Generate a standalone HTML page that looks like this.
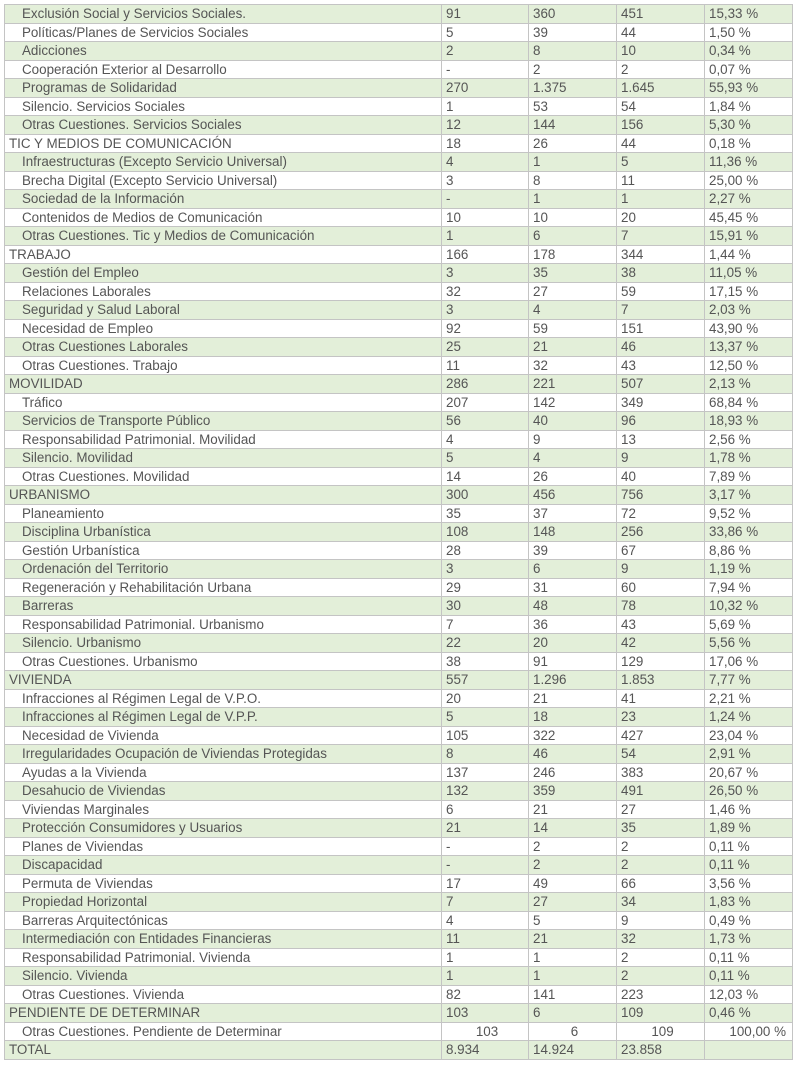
<!DOCTYPE html>
<html><head><meta charset="utf-8"><style>
html,body{margin:0;padding:0;background:#fff;width:800px;height:1065px;overflow:hidden}
table{position:absolute;left:4px;top:4px;border-collapse:collapse;table-layout:fixed;width:788px;font-family:"Liberation Sans",sans-serif;font-size:13.4px;color:#555}
td{border:1px solid #c4c4c4;height:17.5px;padding:0 0 0 4px;white-space:nowrap;overflow:hidden;line-height:17px}
tr:nth-child(odd) td{background:#e3efd9}
td.s{padding-left:17px}
tr.c td:not(:first-child){text-align:center}
tr.c td:last-child{text-align:right;padding-right:6px}
</style></head><body>
<table>
<colgroup><col style="width:437px"><col style="width:87px"><col style="width:88px"><col style="width:88px"><col style="width:88px"></colgroup>
<tr><td class="s">Exclusión Social y Servicios Sociales.</td><td>91</td><td>360</td><td>451</td><td>15,33 %</td></tr>
<tr><td class="s">Políticas/Planes de Servicios Sociales</td><td>5</td><td>39</td><td>44</td><td>1,50 %</td></tr>
<tr><td class="s">Adicciones</td><td>2</td><td>8</td><td>10</td><td>0,34 %</td></tr>
<tr><td class="s">Cooperación Exterior al Desarrollo</td><td>-</td><td>2</td><td>2</td><td>0,07 %</td></tr>
<tr><td class="s">Programas de Solidaridad</td><td>270</td><td>1.375</td><td>1.645</td><td>55,93 %</td></tr>
<tr><td class="s">Silencio. Servicios Sociales</td><td>1</td><td>53</td><td>54</td><td>1,84 %</td></tr>
<tr><td class="s">Otras Cuestiones. Servicios Sociales</td><td>12</td><td>144</td><td>156</td><td>5,30 %</td></tr>
<tr><td>TIC Y MEDIOS DE COMUNICACIÓN</td><td>18</td><td>26</td><td>44</td><td>0,18 %</td></tr>
<tr><td class="s">Infraestructuras (Excepto Servicio Universal)</td><td>4</td><td>1</td><td>5</td><td>11,36 %</td></tr>
<tr><td class="s">Brecha Digital (Excepto Servicio Universal)</td><td>3</td><td>8</td><td>11</td><td>25,00 %</td></tr>
<tr><td class="s">Sociedad de la Información</td><td>-</td><td>1</td><td>1</td><td>2,27 %</td></tr>
<tr><td class="s">Contenidos de Medios de Comunicación</td><td>10</td><td>10</td><td>20</td><td>45,45 %</td></tr>
<tr><td class="s">Otras Cuestiones. Tic y Medios de Comunicación</td><td>1</td><td>6</td><td>7</td><td>15,91 %</td></tr>
<tr><td>TRABAJO</td><td>166</td><td>178</td><td>344</td><td>1,44 %</td></tr>
<tr><td class="s">Gestión del Empleo</td><td>3</td><td>35</td><td>38</td><td>11,05 %</td></tr>
<tr><td class="s">Relaciones Laborales</td><td>32</td><td>27</td><td>59</td><td>17,15 %</td></tr>
<tr><td class="s">Seguridad y Salud Laboral</td><td>3</td><td>4</td><td>7</td><td>2,03 %</td></tr>
<tr><td class="s">Necesidad de Empleo</td><td>92</td><td>59</td><td>151</td><td>43,90 %</td></tr>
<tr><td class="s">Otras Cuestiones Laborales</td><td>25</td><td>21</td><td>46</td><td>13,37 %</td></tr>
<tr><td class="s">Otras Cuestiones. Trabajo</td><td>11</td><td>32</td><td>43</td><td>12,50 %</td></tr>
<tr><td>MOVILIDAD</td><td>286</td><td>221</td><td>507</td><td>2,13 %</td></tr>
<tr><td class="s">Tráfico</td><td>207</td><td>142</td><td>349</td><td>68,84 %</td></tr>
<tr><td class="s">Servicios de Transporte Público</td><td>56</td><td>40</td><td>96</td><td>18,93 %</td></tr>
<tr><td class="s">Responsabilidad Patrimonial. Movilidad</td><td>4</td><td>9</td><td>13</td><td>2,56 %</td></tr>
<tr><td class="s">Silencio. Movilidad</td><td>5</td><td>4</td><td>9</td><td>1,78 %</td></tr>
<tr><td class="s">Otras Cuestiones. Movilidad</td><td>14</td><td>26</td><td>40</td><td>7,89 %</td></tr>
<tr><td>URBANISMO</td><td>300</td><td>456</td><td>756</td><td>3,17 %</td></tr>
<tr><td class="s">Planeamiento</td><td>35</td><td>37</td><td>72</td><td>9,52 %</td></tr>
<tr><td class="s">Disciplina Urbanística</td><td>108</td><td>148</td><td>256</td><td>33,86 %</td></tr>
<tr><td class="s">Gestión Urbanística</td><td>28</td><td>39</td><td>67</td><td>8,86 %</td></tr>
<tr><td class="s">Ordenación del Territorio</td><td>3</td><td>6</td><td>9</td><td>1,19 %</td></tr>
<tr><td class="s">Regeneración y Rehabilitación Urbana</td><td>29</td><td>31</td><td>60</td><td>7,94 %</td></tr>
<tr><td class="s">Barreras</td><td>30</td><td>48</td><td>78</td><td>10,32 %</td></tr>
<tr><td class="s">Responsabilidad Patrimonial. Urbanismo</td><td>7</td><td>36</td><td>43</td><td>5,69 %</td></tr>
<tr><td class="s">Silencio. Urbanismo</td><td>22</td><td>20</td><td>42</td><td>5,56 %</td></tr>
<tr><td class="s">Otras Cuestiones. Urbanismo</td><td>38</td><td>91</td><td>129</td><td>17,06 %</td></tr>
<tr><td>VIVIENDA</td><td>557</td><td>1.296</td><td>1.853</td><td>7,77 %</td></tr>
<tr><td class="s">Infracciones al Régimen Legal de V.P.O.</td><td>20</td><td>21</td><td>41</td><td>2,21 %</td></tr>
<tr><td class="s">Infracciones al Régimen Legal de V.P.P.</td><td>5</td><td>18</td><td>23</td><td>1,24 %</td></tr>
<tr><td class="s">Necesidad de Vivienda</td><td>105</td><td>322</td><td>427</td><td>23,04 %</td></tr>
<tr><td class="s">Irregularidades Ocupación de Viviendas Protegidas</td><td>8</td><td>46</td><td>54</td><td>2,91 %</td></tr>
<tr><td class="s">Ayudas a la Vivienda</td><td>137</td><td>246</td><td>383</td><td>20,67 %</td></tr>
<tr><td class="s">Desahucio de Viviendas</td><td>132</td><td>359</td><td>491</td><td>26,50 %</td></tr>
<tr><td class="s">Viviendas Marginales</td><td>6</td><td>21</td><td>27</td><td>1,46 %</td></tr>
<tr><td class="s">Protección Consumidores y Usuarios</td><td>21</td><td>14</td><td>35</td><td>1,89 %</td></tr>
<tr><td class="s">Planes de Viviendas</td><td>-</td><td>2</td><td>2</td><td>0,11 %</td></tr>
<tr><td class="s">Discapacidad</td><td>-</td><td>2</td><td>2</td><td>0,11 %</td></tr>
<tr><td class="s">Permuta de Viviendas</td><td>17</td><td>49</td><td>66</td><td>3,56 %</td></tr>
<tr><td class="s">Propiedad Horizontal</td><td>7</td><td>27</td><td>34</td><td>1,83 %</td></tr>
<tr><td class="s">Barreras Arquitectónicas</td><td>4</td><td>5</td><td>9</td><td>0,49 %</td></tr>
<tr><td class="s">Intermediación con Entidades Financieras</td><td>11</td><td>21</td><td>32</td><td>1,73 %</td></tr>
<tr><td class="s">Responsabilidad Patrimonial. Vivienda</td><td>1</td><td>1</td><td>2</td><td>0,11 %</td></tr>
<tr><td class="s">Silencio. Vivienda</td><td>1</td><td>1</td><td>2</td><td>0,11 %</td></tr>
<tr><td class="s">Otras Cuestiones. Vivienda</td><td>82</td><td>141</td><td>223</td><td>12,03 %</td></tr>
<tr><td>PENDIENTE DE DETERMINAR</td><td>103</td><td>6</td><td>109</td><td>0,46 %</td></tr>
<tr class="c"><td class="s">Otras Cuestiones. Pendiente de Determinar</td><td>103</td><td>6</td><td>109</td><td>100,00 %</td></tr>
<tr><td>TOTAL</td><td>8.934</td><td>14.924</td><td>23.858</td><td></td></tr>
</table>
</body></html>
